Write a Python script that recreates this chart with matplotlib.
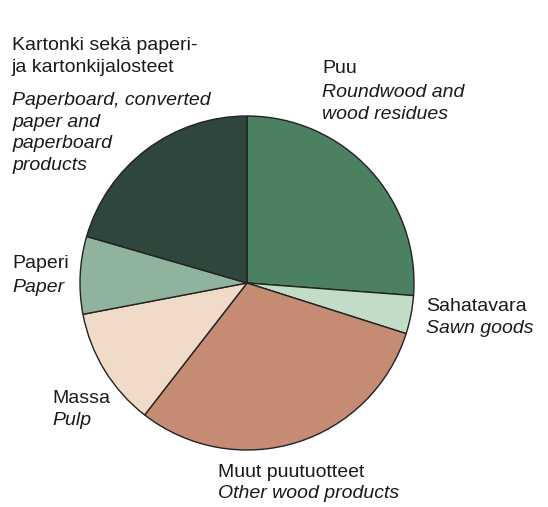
import matplotlib.pyplot as plt

labels_fi = ['Puu', 'Sahatavara', 'Muut puutuotteet', 'Massa', 'Paperi',
             'Kartonki sekä paperi-\nja kartonkijalosteet']
labels_en = ['Roundwood and\nwood residues', 'Sawn goods', 'Other wood products',
             'Pulp', 'Paper', 'Paperboard, converted\npaper and\npaperboard\nproducts']
shares = [26.2, 3.7, 30.6, 11.5, 7.5, 20.5]
colors = ['#4b8060', '#c3dcc7', '#c68c73', '#f0dac8', '#8fb39d', '#2f463c']

plt.rcParams['font.family'] = ['Liberation Sans', 'DejaVu Sans']

fig = plt.figure(figsize=(5.48, 5.07), dpi=100)
ax = fig.add_axes([0, 0, 1, 1])

H = 507
ax.pie(shares, colors=colors, startangle=90, counterclock=False,
       center=(247, H - 283), radius=167, frame=True,
       wedgeprops=dict(edgecolor='#222222', linewidth=1.0))
ax.set_xlim(0, 548)
ax.set_ylim(0, 507)
ax.set_aspect('equal')
ax.axis('off')

# label positions: x, baseline of finnish text, baseline of english text (pixels from top)
pos = [(322, 73, 97), (426, 311, 333), (218, 477, 498), (52, 403, 425),
       (12, 268, 292), (12, 50, 105)]
fs = 14
step = 21.7


def put(x, y0, txt, **kw):
    for i, line in enumerate(txt.split('\n')):
        ax.text(x, H - (y0 + i * step), line, fontsize=fs, va='baseline',
                ha='left', color='#1a1a1a', **kw)


for (x, y1, y2), fi, en in zip(pos, labels_fi, labels_en):
    put(x, y1, fi)
    put(x, y2, en, style='italic')

fig.savefig('out.png', dpi=100)
